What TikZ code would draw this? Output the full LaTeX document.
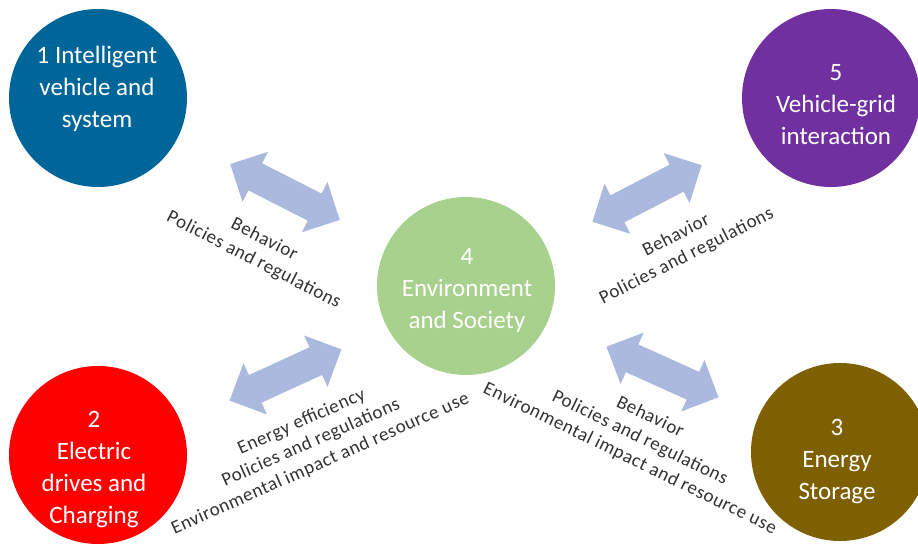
\documentclass[tikz,border=0pt]{standalone}
\usepackage{fontspec}
\setmainfont{Carlito}
\usetikzlibrary{shapes.arrows}
\definecolor{hubblue}{RGB}{0,102,153}
\definecolor{hubpurple}{RGB}{112,48,160}
\definecolor{hubgreen}{RGB}{169,209,142}
\definecolor{hubred}{RGB}{255,0,0}
\definecolor{hubbrown}{RGB}{127,96,0}
\definecolor{linkblue}{RGB}{172,185,222}
\definecolor{labelgray}{RGB}{50,50,50}
\begin{document}
\begin{tikzpicture}[x=1pt,y=-1pt,
  hub/.style={circle, minimum size=178pt, inner sep=0pt, draw=none},
  hubtext/.style={text=white, align=center, inner sep=0pt,
    font=\fontsize{25}{32}\selectfont},
  link/.style={double arrow, fill=linkblue, draw=none, inner sep=0pt,
    text height=15pt, text depth=15pt, text width=0pt,
    minimum height=123pt, double arrow head extend=13pt},
  theme/.style={text=labelgray, align=center, inner sep=0pt,
    font=\fontsize{19}{23}\selectfont\addfontfeatures{LetterSpace=3}}]
\useasboundingbox (0,0) rectangle (918,545);

% the five topic circles
\node[hub, fill=hubblue]   (c1) at (98,98)   {};
\node[hub, fill=hubred]    (c2) at (98,455)  {};
\node[hub, fill=hubbrown]  (c3) at (840,452) {};
\node[hub, fill=hubgreen]  (c4) at (466,286) {};
\node[hub, fill=hubpurple] (c5) at (831,98)  {};

\node[hubtext] (t1) at (97,88.5)  {1 Intelligent\\vehicle and\\system};
\node[hubtext] (t2) at (94,469.5) {2\\Electric\\drives and\\Charging};
\node[hubtext] (t3) at (837,462)  {3\\Energy\\Storage};
\node[hubtext] (t4) at (467,290)  {4\\Environment\\and Society};
\node[hubtext] (t5) at (836,105)  {5\\Vehicle-grid\\interaction};

% two-way links between the outer topics and the centre
\node[link, rotate=-27]   (a1) at (285,192)   {};
\node[link, rotate=27.4]  (a5) at (647,193.5) {};
\node[link, rotate=24.6]  (a2) at (285.5,375) {};
\node[link, rotate=-24.3] (a3) at (662.5,372) {};

% link themes
\node[theme, rotate=-27] (l1) at (259,250)
  {Behavior\\Policies and regulations};
\node[theme, rotate=27] (l5) at (681.5,246)
  {Behavior\\Policies and regulations};
\node[theme, rotate=24] (l2) at (311,443)
  {Energy efficiency\\Policies and regulations\\Environmental impact and resource use};
\node[theme, rotate=-26] (l3) at (640,438)
  {Behavior\\Policies and regulations\\Environmental impact and resource use};
\end{tikzpicture}
\end{document}
